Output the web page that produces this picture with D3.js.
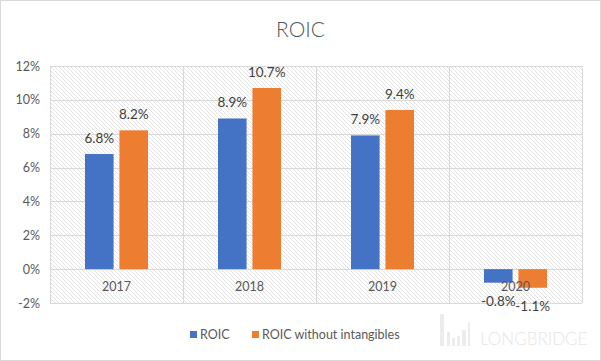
<!DOCTYPE html>
<html><head><meta charset="utf-8">
<script src="https://cdn.jsdelivr.net/npm/d3@7"></script>
<style>body{margin:0;background:#fff}svg{display:block}</style>
</head><body><svg id="c" width="601" height="361"></svg>
<script>
const categories = ["2017","2018","2019","2020"];
const roic = [6.8, 8.9, 7.9, -0.8];
const roicNoIntangibles = [8.2, 10.7, 9.4, -1.1];
const seriesNames = ["ROIC","ROIC without intangibles"];
const yTicks = [-2,0,2,4,6,8,10,12];
const colors = ["#4472c4","#ed7d31"];

const svg = d3.select("#c");
const W=601,H=361;
const font = "Lato, 'Open Sans', sans-serif";
svg.append("rect").attr("x",0.5).attr("y",0.5).attr("width",W-1).attr("height",H-1).attr("fill","#fff").attr("stroke","#d9d9d9");

const defs = svg.append("defs");
const pat = defs.append("pattern").attr("id","hatch").attr("patternUnits","userSpaceOnUse").attr("width",4).attr("height",4);
pat.append("path").attr("d","M-1,-1 L5,5 M-1,3 L1,5 M3,-1 L5,1").attr("stroke","#d9d9d9").attr("stroke-width",0.7);

const m={l:50,r:582,t:66,b:303};
const x = d3.scaleBand().domain(categories).range([m.l,m.r]);
const y = d3.scaleLinear().domain([-2,12]).range([m.b,m.t]);
const x1 = d3.scaleBand().domain([0,1]).range([0,63]).paddingInner(0.17);

svg.append("rect").attr("x",m.l).attr("y",m.t).attr("width",m.r-m.l).attr("height",m.b-m.t).attr("fill","url(#hatch)");

// gridlines
svg.append("g").selectAll("line").data(yTicks).join("line")
  .attr("x1",m.l).attr("x2",m.r).attr("y1",d=>Math.round(y(d))+0.5).attr("y2",d=>Math.round(y(d))+0.5)
  .attr("stroke","#d9d9d9");
const vlines = categories.map(c=>x(c)).concat([m.r]);
svg.append("g").selectAll("line").data(vlines).join("line")
  .attr("x1",d=>Math.round(d)+0.5).attr("x2",d=>Math.round(d)+0.5).attr("y1",m.t).attr("y2",m.b)
  .attr("stroke","#d9d9d9");

// y axis labels
const yAxis = d3.axisLeft(y).tickValues(yTicks).tickFormat(d=>d+"%").tickSize(0).tickPadding(10);
const ga = svg.append("g").attr("transform",`translate(${m.l},0)`).call(yAxis);
ga.select(".domain").remove();
ga.selectAll("text").attr("font-family",font).attr("font-size",12.5).attr("fill","#595959");

const data = [roic, roicNoIntangibles];
const off = (x.bandwidth()-63)/2;
data.forEach((vals,si)=>{
  const g = svg.append("g");
  g.selectAll("rect").data(vals).join("rect")
    .attr("x",(d,i)=>x(categories[i])+off+x1(si))
    .attr("width",x1.bandwidth())
    .attr("y",d=>y(Math.max(0,d)))
    .attr("height",d=>Math.abs(y(d)-y(0)))
    .attr("fill",colors[si]);
  g.selectAll("text").data(vals).join("text")
    .attr("x",(d,i)=>x(categories[i])+off+x1(si)+x1.bandwidth()/2)
    .attr("y",d=>d>=0? y(d)-11 : y(d)+23)
    .attr("text-anchor","middle").attr("font-family",font).attr("font-size",13.5).attr("fill","#404040")
    .text(d=>d.toFixed(1)+"%");
});

// category labels
svg.append("g").selectAll("text").data(categories).join("text")
  .attr("x",d=>x(d)+x.bandwidth()/2).attr("y",y(0)+22)
  .attr("text-anchor","middle").attr("font-family",font).attr("font-size",12.5).attr("fill","#595959").text(d=>d);

// title
svg.append("text").attr("x",W/2).attr("y",37).attr("text-anchor","middle")
  .attr("font-family",font).attr("font-weight",300).attr("font-size",21).attr("fill","#595959").text("ROIC");

// legend
const lx=[190,252];
seriesNames.forEach((n,i)=>{
  svg.append("rect").attr("x",lx[i]).attr("y",331).attr("width",7).attr("height",7).attr("fill",colors[i]);
  svg.append("text").attr("x",lx[i]+10).attr("y",339).attr("font-family",font).attr("font-size",12.5).attr("fill","#595959").text(n);
});

// watermark
const wm = svg.append("g").attr("fill","#ececec");
[[440,314,4,32],[447,332,3,14],[452,338,3,8],[457,336,3,10],[462,330,4,16],[468,322,2,24]].forEach(r=>{
  wm.append("rect").attr("x",r[0]).attr("y",r[1]).attr("width",r[2]).attr("height",r[3]);
});
wm.append("text").attr("x",480).attr("y",345).attr("font-family",font).attr("font-weight",300).attr("font-size",17).attr("fill","#e6e6e6").text("LONGBRIDGE");
</script></body></html>
